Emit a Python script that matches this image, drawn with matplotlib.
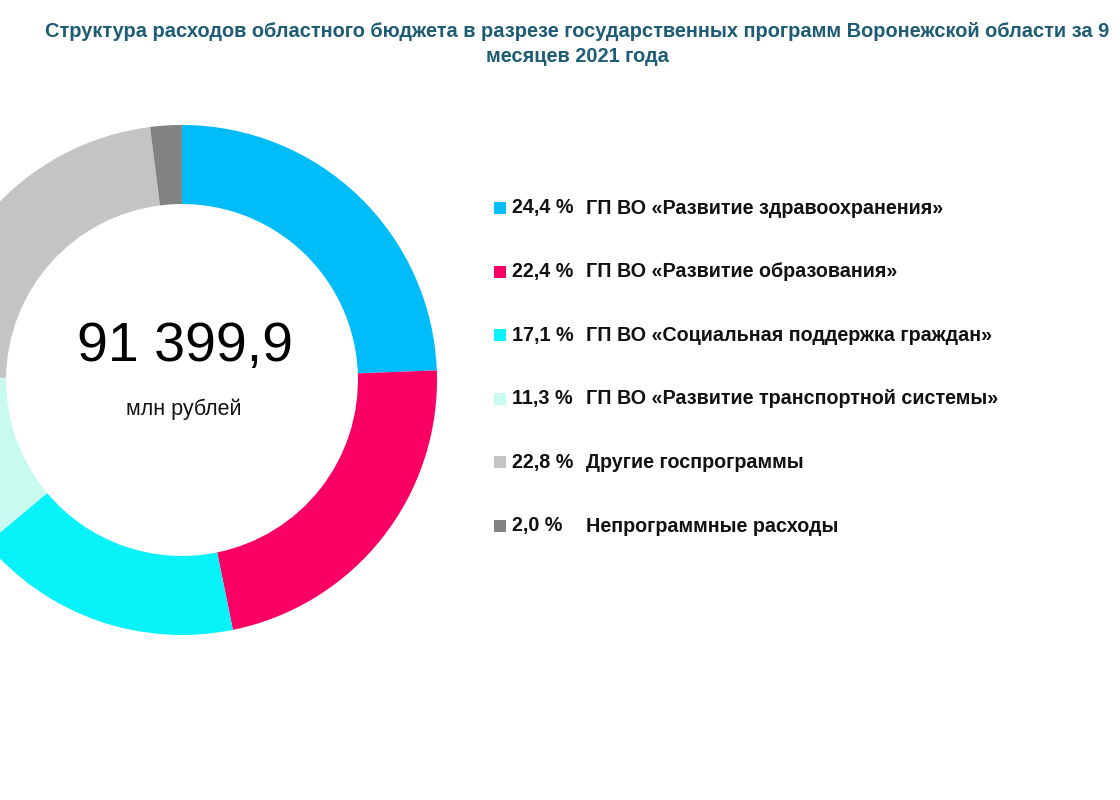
import matplotlib
matplotlib.use("Agg")
import matplotlib.pyplot as plt

title = "Структура расходов областного бюджета в разрезе государственных программ Воронежской области за 9\nмесяцев 2021 года"
shares = [24.4, 22.4, 17.1, 11.3, 22.8, 2.0]
share_labels = ["24,4 %", "22,4 %", "17,1 %", "11,3 %", "22,8 %", "2,0 %"]
names = [
    "ГП ВО «Развитие здравоохранения»",
    "ГП ВО «Развитие образования»",
    "ГП ВО «Социальная поддержка граждан»",
    "ГП ВО «Развитие транспортной системы»",
    "Другие госпрограммы",
    "Непрограммные расходы",
]
colors = ["#00BDFA", "#FA0064", "#08F2FA", "#C8FAF0", "#C4C4C4", "#828282"]
total_text = "91 399,9"
unit_text = "млн рублей"

plt.rcParams['font.family'] = ['Liberation Sans', 'DejaVu Sans']

fig = plt.figure(figsize=(11.2, 8), dpi=100)
ax = fig.add_axes([0, 0, 1, 1])
ax.set_xlim(0, 1120)
ax.set_ylim(0, 800)
ax.axis('off')

cx, cy, R = 182, 420, 255
ax.pie(shares, colors=colors, startangle=90, counterclock=False,
       radius=R, center=(cx, cy), frame=False,
       wedgeprops=dict(width=R * 0.31, linewidth=0))
ax.set_xlim(0, 1120)
ax.set_ylim(0, 800)
ax.set_aspect('equal')

ax.text(cx + 3, 453, total_text, ha='center', va='center', fontsize=40, color='black')
ax.text(cx + 2, 391, unit_text, ha='center', va='center', fontsize=15.5, color='#111111')

fig.text(0.5156, 756 / 800, title, ha='center', va='center', fontsize=14.4,
         fontweight='bold', color='#1D5C74', linespacing=1.4)

y0, dy = 800 - 208, 63.6
for i, (sl, nm, c) in enumerate(zip(share_labels, names, colors)):
    y = y0 - i * dy
    ax.add_patch(plt.Rectangle((494, y - 6), 12, 12, color=c, lw=0))
    ax.text(512, y, sl, ha='left', va='center', fontsize=14.2, fontweight='bold', color='#111111')
    ax.text(586, y, nm, ha='left', va='center', fontsize=14.2, fontweight='bold', color='#111111')

fig.savefig("out.png", dpi=100, facecolor='white')
